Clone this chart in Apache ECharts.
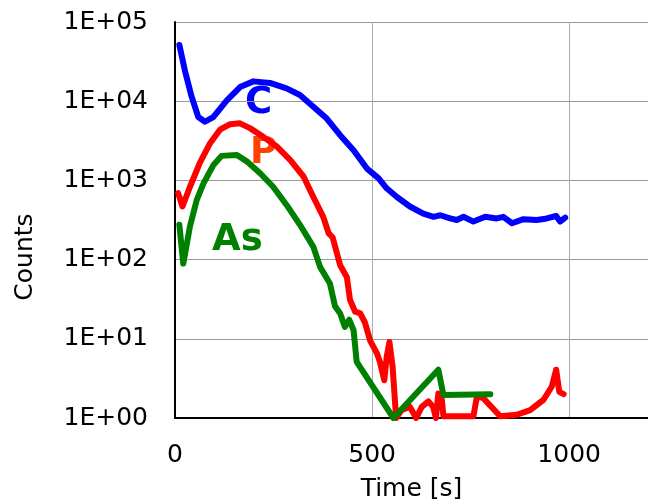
<!DOCTYPE html>
<html>
<head>
<meta charset="utf-8">
<script src="https://cdn.jsdelivr.net/npm/echarts@6/dist/echarts.min.js"></script>
<style>
html,body{margin:0;padding:0;background:#fff;}
#main{width:648px;height:504px;}
</style>
</head>
<body>
<div id="main"></div>
<script>
// time [s] and counts
var timeC = [11,25,42,59,76,97,131,165,199,241,283,317,351,385,419,453,487,516,537,563,596,630,656,673,698,715,732,757,787,816,833,855,884,918,943,967,977,990];
var countsC = [51300,24500,11500,6310,5500,6310,10200,15100,17800,17000,14500,12000,8510,6030,3720,2400,1410,1070,794,617,468,380,347,363,331,316,347,302,347,331,347,288,324,316,331,355,302,339];

var timeP = [8,19,38,63,89,114,140,165,190,224,258,292,326,351,376,390,400,419,436,444,457,470,482,495,512,520,531,537,544,552,561,575,596,612,626,643,655,662,668,677,681,757,766,782,825,867,901,935,956,967,975,986];
var countsP = [692,468,832,1660,2950,4370,5130,5250,4570,3550,2690,1820,1120,617,347,214,190,85,60,31,22,21,16,9.5,6.6,5.1,3.0,5.9,9.1,4.5,1,1.26,1.38,1,1.38,1.62,1.38,1,2.04,1.7,1.05,1.05,1.86,1.78,1.05,1.1,1.26,1.7,2.5,4.07,2.14,2.0];

var timeAs = [11,21,38,55,72,97,118,157,182,216,249,283,317,351,368,393,406,419,431,442,453,461,554,668,681,800];
var countsAs = [275,89,263,562,912,1550,2040,2090,1740,1230,832,490,275,145,81,50,25.7,20.9,14.1,17.4,12.9,5.1,1,4.07,1.95,2.0];

function pairs(xs, ys) {
    var out = [];
    for (var i = 0; i < xs.length; i++) out.push([xs[i], ys[i]]);
    return out;
}

var myChart = echarts.init(document.getElementById('main'));

var font = 'DejaVu Sans';

var option = {
    animation: false,
    backgroundColor: '#fff',
    grid: {
        left: 175,
        right: 0,
        top: 22,
        bottom: 86,
        outerBoundsMode: 'none'
    },
    xAxis: {
        type: 'value',
        min: 0,
        max: 1200,
        interval: 500,
        name: 'Time [s]',
        nameLocation: 'middle',
        nameGap: 59,
        nameTextStyle: { fontFamily: font, fontSize: 25, color: '#000' },
        axisLine: { onZero: false, lineStyle: { color: '#000', width: 2 } },
        axisTick: { show: false },
        axisLabel: { margin: 25, fontFamily: font, fontSize: 25, color: '#000',
            formatter: function (v) { return v > 1000 ? '' : String(v); } },
        splitLine: { show: true, lineStyle: { color: '#aaa', width: 1 } }
    },
    yAxis: {
        type: 'log',
        logBase: 10,
        min: 1,
        max: 100000,
        axisLine: { show: true, lineStyle: { color: '#000', width: 2 } },
        axisTick: { show: false },
        axisLabel: { margin: 27, fontFamily: font, fontSize: 25, color: '#000',
            formatter: function (v) {
                var e = Math.round(Math.log(v) / Math.LN10);
                return '1E+' + (e < 10 ? '0' : '') + e;
            } },
        splitLine: { show: true, lineStyle: { color: '#999', width: 1 } }
    },
    graphic: [
        { type: 'text', x: 25, y: 257, rotation: Math.PI / 2,
          style: { text: 'Counts', font: '25px "DejaVu Sans"', fill: '#000',
                   align: 'center', verticalAlign: 'middle' } },
        { type: 'text', x: 245, y: 103,
          style: { text: 'C', font: 'bold 37px "DejaVu Sans"', fill: '#0000ff', verticalAlign: 'middle' } },
        { type: 'text', x: 250, y: 153,
          style: { text: 'P', font: 'bold 37px "DejaVu Sans"', fill: '#ff4000', verticalAlign: 'middle' } },
        { type: 'text', x: 212, y: 240,
          style: { text: 'As', font: 'bold 37px "DejaVu Sans"', fill: '#008000', verticalAlign: 'middle' } }
    ],
    series: [
        { name: 'C', type: 'line', data: pairs(timeC, countsC), showSymbol: false,
          lineStyle: { color: '#0000ff', width: 6, join: 'round', cap: 'round' } },
        { name: 'P', type: 'line', data: pairs(timeP, countsP), showSymbol: false,
          lineStyle: { color: '#ff0000', width: 6, join: 'round', cap: 'round' } },
        { name: 'As', type: 'line', data: pairs(timeAs, countsAs), showSymbol: false,
          lineStyle: { color: '#008000', width: 6, join: 'round', cap: 'round' } }
    ]
};

myChart.setOption(option);
</script>
</body>
</html>
